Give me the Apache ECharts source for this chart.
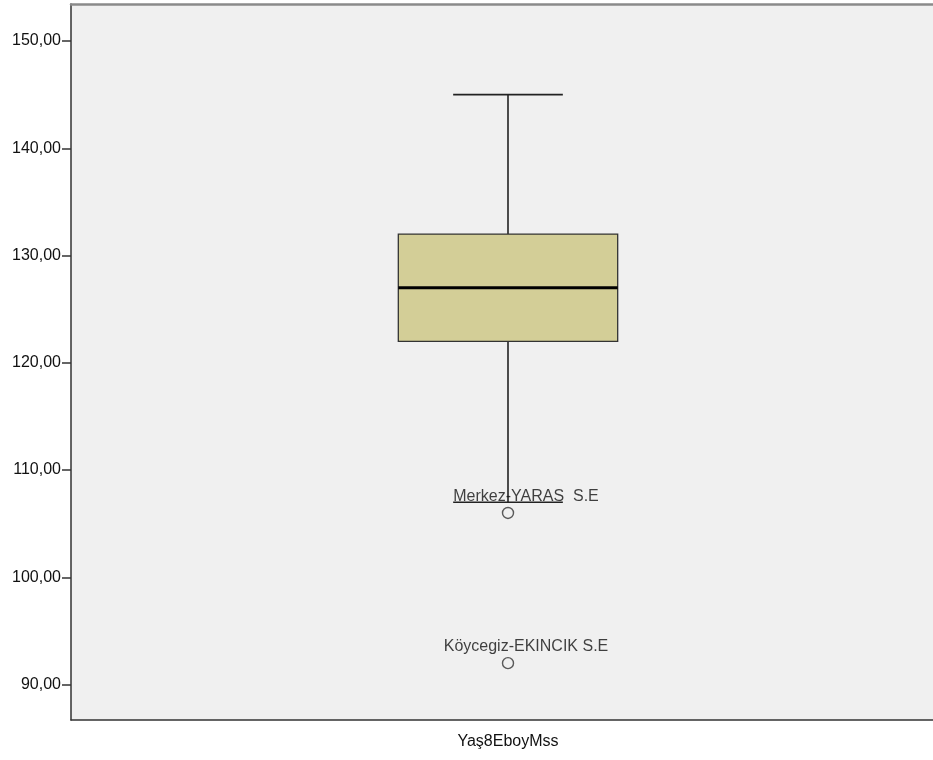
<!DOCTYPE html>
<html>
<head>
<meta charset="utf-8">
<script src="https://cdn.jsdelivr.net/npm/echarts@6/dist/echarts.min.js"></script>
<style>
html,body{margin:0;padding:0;background:#ffffff;}
#chart{width:933px;height:760px;}
</style>
</head>
<body>
<div id="chart"></div>
<script>
// ---- data ----
var categories = ['Yaş8EboyMss'];
// [lower whisker, Q1, median, Q3, upper whisker]
var boxStats = [107, 122, 127, 132, 145];
var outlierValues = [106, 92];
var outlierLabels = ['Merkez-YARAS  S.E', 'Köycegiz-EKINCIK S.E'];
var yTickValues = [90, 100, 110, 120, 130, 140, 150];

var chart = echarts.init(document.getElementById('chart'), null, {renderer: 'canvas'});
var FONT = 'Liberation Sans, Arial, sans-serif';
var TXT = '#111111';

var option = {
  animation: false,
  backgroundColor: '#ffffff',
  grid: {
    left: 71, top: 4, width: 874, height: 716,
    outerBoundsMode: 'none',
    containLabel: false,
    show: true, backgroundColor: '#f0f0f0', borderWidth: 0
  },
  xAxis: [{
    type: 'category',
    data: categories,
    position: 'bottom',
    axisLine: {lineStyle: {color: '#333333', width: 1.5}},
    axisTick: {alignWithLabel: true, length: 9, lineStyle: {color: '#333333', width: 1.5}},
    axisLabel: {color: TXT, fontSize: 16, fontFamily: FONT, margin: 14},
    splitLine: {show: false}
  }, {
    type: 'category',
    data: categories,
    position: 'top',
    axisLine: {show: true, lineStyle: {color: '#8a8a8a', width: 2.5}},
    axisTick: {show: false},
    axisLabel: {show: false}
  }],
  yAxis: {
    type: 'value',
    min: 86.7,
    max: 153.45,
    axisLine: {show: true, lineStyle: {color: '#333333', width: 1.5}},
    axisTick: {show: true, length: 9, customValues: yTickValues, lineStyle: {color: '#333333', width: 1.5}},
    axisLabel: {
      customValues: yTickValues,
      color: TXT, fontSize: 16, fontFamily: FONT, margin: 10,
      formatter: function (v) { return v.toFixed(2).replace('.', ','); }
    },
    splitLine: {show: false}
  },
  series: [{
    type: 'custom',
    data: [[0].concat(boxStats)],
    renderItem: function (params, api) {
      var x = api.value(0);
      var bw = api.size([1, 0])[0] * 0.251;
      var pLow = api.coord([x, api.value(1)]);
      var pQ1 = api.coord([x, api.value(2)]);
      var pMed = api.coord([x, api.value(3)]);
      var pQ3 = api.coord([x, api.value(4)]);
      var pHigh = api.coord([x, api.value(5)]);
      var cx = pMed[0];
      var lineStyle = {stroke: '#222222', lineWidth: 1.6};
      return {
        type: 'group',
        children: [
          {type: 'line', shape: {x1: cx, y1: pQ3[1], x2: cx, y2: pHigh[1]}, style: lineStyle},
          {type: 'line', shape: {x1: cx, y1: pQ1[1], x2: cx, y2: pLow[1]}, style: lineStyle},
          {type: 'line', shape: {x1: cx - bw / 4, y1: pHigh[1], x2: cx + bw / 4, y2: pHigh[1]}, style: lineStyle},
          {type: 'line', shape: {x1: cx - bw / 4, y1: pLow[1], x2: cx + bw / 4, y2: pLow[1]}, style: lineStyle},
          {type: 'rect', shape: {x: cx - bw / 2, y: pQ3[1], width: bw, height: pQ1[1] - pQ3[1]},
            style: {fill: '#d3ce97', stroke: '#333333', lineWidth: 1.3}},
          {type: 'line', shape: {x1: cx - bw / 2, y1: pMed[1], x2: cx + bw / 2, y2: pMed[1]},
            style: {stroke: '#000000', lineWidth: 3}}
        ]
      };
    }
  }, {
    type: 'scatter',
    data: outlierValues.map(function (v, i) { return {value: [0, v], name: outlierLabels[i]}; }),
    symbol: 'circle',
    symbolSize: 11,
    itemStyle: {color: '#f0f0f0', borderColor: '#333333', borderWidth: 1.4},
    label: {
      show: true,
      position: 'top',
      distance: 2,
      offset: [18, 0],
      formatter: function (p) { return p.name; },
      color: TXT, fontSize: 16, fontFamily: FONT
    },
    z: 5
  }]
};
chart.setOption(option);
</script>
</body>
</html>
